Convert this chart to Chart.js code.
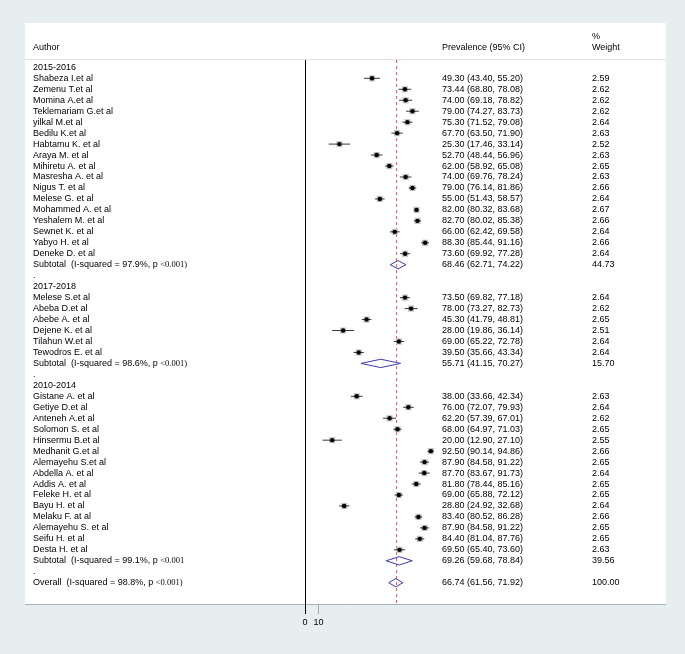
<!DOCTYPE html>
<html lang="en">
  <head>
    <meta charset="UTF-8" />
    <title>Prevalence forest plot</title>
    <script src="https://cdn.jsdelivr.net/npm/chart.js@4.4.0/dist/chart.umd.min.js"></script>
    <style>
      body {
        margin: 0;
        padding: 0;
        background: #e7eef0;
        overflow: hidden;
      }
    </style>
  </head>
  <body>
    <canvas id="forest" width="685" height="654"></canvas>
    <script>
      // study data
      const groupNames = ['2015-2016', '2017-2018', '2010-2014']
      const authors = [
        'Shabeza I.et al', 'Zemenu T.et al', 'Momina A.et al', 'Teklemariam G.et al',
        'yilkal M.et al', 'Bedilu K.et al', 'Habtamu K. et al', 'Araya M. et al',
        'Mihiretu A. et al', 'Masresha A. et al', 'Nigus T. et al', 'Melese G. et al',
        'Mohammed A. et al', 'Yeshalem M. et al', 'Sewnet K. et al', 'Yabyo H. et al',
        'Deneke D. et al',
        'Melese S.et al', 'Abeba D.et al', 'Abebe A. et al', 'Dejene K. et al',
        'Tilahun W.et al', 'Tewodros E. et al',
        'Gistane A. et al', 'Getiye D.et al', 'Anteneh A.et al', 'Solomon S. et al',
        'Hinsermu B.et al', 'Medhanit G.et al', 'Alemayehu S.et al', 'Abdella A. et al',
        'Addis A. et al', 'Feleke H. et al', 'Bayu H. et al', 'Melaku F. at al',
        'Alemayehu S. et al', 'Seifu H. et al', 'Desta H. et al',
      ]
      const groupOf = [
        0, 0, 0, 0, 0, 0, 0, 0, 0, 0, 0, 0, 0, 0, 0, 0, 0,
        1, 1, 1, 1, 1, 1,
        2, 2, 2, 2, 2, 2, 2, 2, 2, 2, 2, 2, 2, 2, 2,
      ]
      const estimates = [
        49.3, 73.44, 74.0, 79.0, 75.3, 67.7, 25.3, 52.7, 62.0, 74.0, 79.0, 55.0, 82.0, 82.7, 66.0, 88.3, 73.6,
        73.5, 78.0, 45.3, 28.0, 69.0, 39.5,
        38.0, 76.0, 62.2, 68.0, 20.0, 92.5, 87.9, 87.7, 81.8, 69.0, 28.8, 83.4, 87.9, 84.4, 69.5,
      ]
      const lower = [
        43.4, 68.8, 69.18, 74.27, 71.52, 63.5, 17.46, 48.44, 58.92, 69.76, 76.14, 51.43, 80.32, 80.02, 62.42, 85.44, 69.92,
        69.82, 73.27, 41.79, 19.86, 65.22, 35.66,
        33.66, 72.07, 57.39, 64.97, 12.9, 90.14, 84.58, 83.67, 78.44, 65.88, 24.92, 80.52, 84.58, 81.04, 65.4,
      ]
      const upper = [
        55.2, 78.08, 78.82, 83.73, 79.08, 71.9, 33.14, 56.96, 65.08, 78.24, 81.86, 58.57, 83.68, 85.38, 69.58, 91.16, 77.28,
        77.18, 82.73, 48.81, 36.14, 72.78, 43.34,
        42.34, 79.93, 67.01, 71.03, 27.1, 94.86, 91.22, 91.73, 85.16, 72.12, 32.68, 86.28, 91.22, 87.76, 73.6,
      ]
      const weights = [
        2.59, 2.62, 2.62, 2.62, 2.64, 2.63, 2.52, 2.63, 2.65, 2.63, 2.66, 2.64, 2.67, 2.66, 2.64, 2.66, 2.64,
        2.64, 2.62, 2.65, 2.51, 2.64, 2.64,
        2.63, 2.64, 2.62, 2.65, 2.55, 2.66, 2.65, 2.64, 2.65, 2.65, 2.64, 2.66, 2.65, 2.65, 2.63,
      ]

      // pooled results
      const subI2 = ['97.9%', '98.6%', '99.1%']
      const subTail = ['<0.001)', '<0.001)', '<0.001']
      const subEst = [68.46, 55.71, 69.26]
      const subLo = [62.71, 41.15, 59.68]
      const subHi = [74.22, 70.27, 78.84]
      const subWeight = [44.73, 15.7, 39.56]
      const overallI2 = '98.8%'
      const overallEst = 66.74
      const overallLo = 61.56
      const overallHi = 71.92

      const xTicks = [0, 10]

      // lay out the rows: heading, studies, subtotal, '.' for each group, then overall
      const rows = []
      groupNames.forEach((name, g) => {
        rows.push({ kind: 'head', label: name })
        groupOf.forEach((gg, i) => {
          if (gg === g) rows.push({ kind: 'study', i })
        })
        rows.push({ kind: 'sub', g })
        rows.push({ kind: 'dot' })
      })
      rows.push({ kind: 'overall' })
      rows.forEach((r, k) => (r.row = k))

      const studyRow = []
      const subRow = []
      let overallRow = 0
      rows.forEach((r) => {
        if (r.kind === 'study') studyRow[r.i] = r.row
        if (r.kind === 'sub') subRow[r.g] = r.row
        if (r.kind === 'overall') overallRow = r.row
      })

      const fmt = (v) => v.toFixed(2)
      const ciText = (e, l, h) => fmt(e) + ' (' + fmt(l) + ', ' + fmt(h) + ')'

      // whiskers and diamonds as broken line datasets
      const whiskers = []
      estimates.forEach((e, i) => {
        whiskers.push({ x: lower[i], y: studyRow[i] })
        whiskers.push({ x: upper[i], y: studyRow[i] })
        whiskers.push({ x: null, y: null })
      })
      const dh = 0.38
      const diamonds = []
      const addDiamond = (e, l, h, r) => {
        diamonds.push({ x: l, y: r }, { x: e, y: r - dh }, { x: h, y: r }, { x: e, y: r + dh }, { x: l, y: r })
        diamonds.push({ x: null, y: null })
      }
      subEst.forEach((e, g) => addDiamond(e, subLo[g], subHi[g], subRow[g]))
      addDiamond(overallEst, overallLo, overallHi, overallRow)

      const FONT = "9px 'Liberation Sans', Arial, sans-serif"
      const SERIF = "8.5px 'Liberation Serif', 'Times New Roman', serif"
      const colAuthor = 33
      const colCI = 442
      const colWeight = 592

      const panelPlugin = {
        id: 'panel',
        beforeDraw(chart) {
          const c = chart.ctx
          c.save()
          c.fillStyle = '#e7eef0'
          c.fillRect(0, 0, chart.width, chart.height)
          c.fillStyle = '#ffffff'
          c.fillRect(25, 23, 641, 581)
          c.strokeStyle = '#a9b3b8'
          c.lineWidth = 1
          c.beginPath()
          c.moveTo(25, 604.5)
          c.lineTo(666, 604.5)
          c.stroke()
          c.strokeStyle = '#e2e2e2'
          c.beginPath()
          c.moveTo(25, 59.5)
          c.lineTo(666, 59.5)
          c.stroke()
          c.restore()
        },
        beforeDatasetsDraw(chart) {
          const c = chart.ctx
          const x = Math.round(chart.scales.x.getPixelForValue(overallEst)) + 0.5
          c.save()
          c.strokeStyle = '#c0707a'
          c.lineWidth = 1
          c.setLineDash([3, 3])
          c.beginPath()
          c.moveTo(x, chart.chartArea.top)
          c.lineTo(x, chart.chartArea.bottom)
          c.stroke()
          c.restore()
        },
        afterDraw(chart) {
          const c = chart.ctx
          const y = chart.scales.y
          c.save()
          c.fillStyle = '#000'
          c.font = FONT
          c.textBaseline = 'middle'
          c.fillText('Author', colAuthor, 48)
          c.fillText('Prevalence (95% CI)', colCI, 48)
          c.fillText('%', colWeight, 37)
          c.fillText('Weight', colWeight, 48)

          const pooledLabel = (head, i2, tail, py) => {
            const first = head + '  (I-squared = ' + i2 + ', p '
            c.font = FONT
            c.fillText(first, colAuthor, py)
            const w = c.measureText(first).width
            c.font = SERIF
            c.fillText(tail, colAuthor + w, py)
            c.font = FONT
          }

          rows.forEach((r) => {
            const py = y.getPixelForValue(r.row)
            if (r.kind === 'head') {
              c.fillText(r.label, colAuthor, py)
            } else if (r.kind === 'dot') {
              c.fillText('.', colAuthor, py)
            } else if (r.kind === 'study') {
              c.fillText(authors[r.i], colAuthor, py)
              c.fillText(ciText(estimates[r.i], lower[r.i], upper[r.i]), colCI, py)
              c.fillText(fmt(weights[r.i]), colWeight, py)
            } else if (r.kind === 'sub') {
              pooledLabel('Subtotal', subI2[r.g], subTail[r.g], py)
              c.fillText(ciText(subEst[r.g], subLo[r.g], subHi[r.g]), colCI, py)
              c.fillText(fmt(subWeight[r.g]), colWeight, py)
            } else if (r.kind === 'overall') {
              pooledLabel('Overall', overallI2, '<0.001)', py)
              c.fillText(ciText(overallEst, overallLo, overallHi), colCI, py)
              c.fillText('100.00', colWeight, py)
            }
          })
          c.restore()
        },
      }

      new Chart(document.getElementById('forest'), {
        type: 'scatter',
        data: {
          datasets: [
            {
              type: 'scatter',
              data: estimates.map((e, i) => ({ x: e, y: studyRow[i] })),
              pointStyle: 'circle',
              pointRadius: 2.2,
              backgroundColor: '#000',
              borderWidth: 0,
              order: 1,
            },
            {
              type: 'line',
              data: diamonds,
              borderColor: '#3b3bb0',
              borderWidth: 1,
              pointRadius: 0,
              fill: false,
              spanGaps: false,
              order: 2,
            },
            {
              type: 'line',
              data: whiskers,
              borderColor: '#3a3a3a',
              borderWidth: 1,
              pointRadius: 0,
              fill: false,
              spanGaps: false,
              order: 3,
            },
            {
              type: 'scatter',
              data: estimates.map((e, i) => ({ x: e, y: studyRow[i] })),
              pointStyle: 'rect',
              pointRadius: weights.map((w) => Math.sqrt(w) * 2.7),
              backgroundColor: '#c4c4c4',
              borderWidth: 0,
              order: 4,
            },
          ],
        },
        options: {
          responsive: false,
          devicePixelRatio: 1,
          animation: false,
          events: [],
          layout: {
            padding: { left: 305, right: 244, top: 60, bottom: 0 },
          },
          plugins: {
            legend: { display: false },
            tooltip: { enabled: false },
          },
          scales: {
            x: {
              type: 'linear',
              min: 0,
              max: 100,
              afterBuildTicks: (scale) => {
                scale.ticks = xTicks.map((v) => ({ value: v }))
              },
              afterFit: (scale) => {
                scale.height = 50
              },
              border: { display: false },
              grid: {
                drawOnChartArea: true,
                tickLength: 10,
                lineWidth: 1,
                color: (ctx) => (ctx.tick && ctx.tick.value === 0 ? '#000' : 'rgba(0,0,0,0)'),
                tickColor: (ctx) => (ctx.tick && ctx.tick.value === 0 ? '#000' : '#a8a8a8'),
              },
              ticks: {
                color: '#000',
                padding: 3,
                maxRotation: 0,
                font: { family: "'Liberation Sans', Arial, sans-serif", size: 9 },
                callback: (v) => String(v),
              },
            },
            y: {
              type: 'linear',
              display: false,
              reverse: true,
              min: -0.67,
              max: 48.94,
            },
          },
        },
        plugins: [panelPlugin],
      })
    </script>
  </body>
</html>
